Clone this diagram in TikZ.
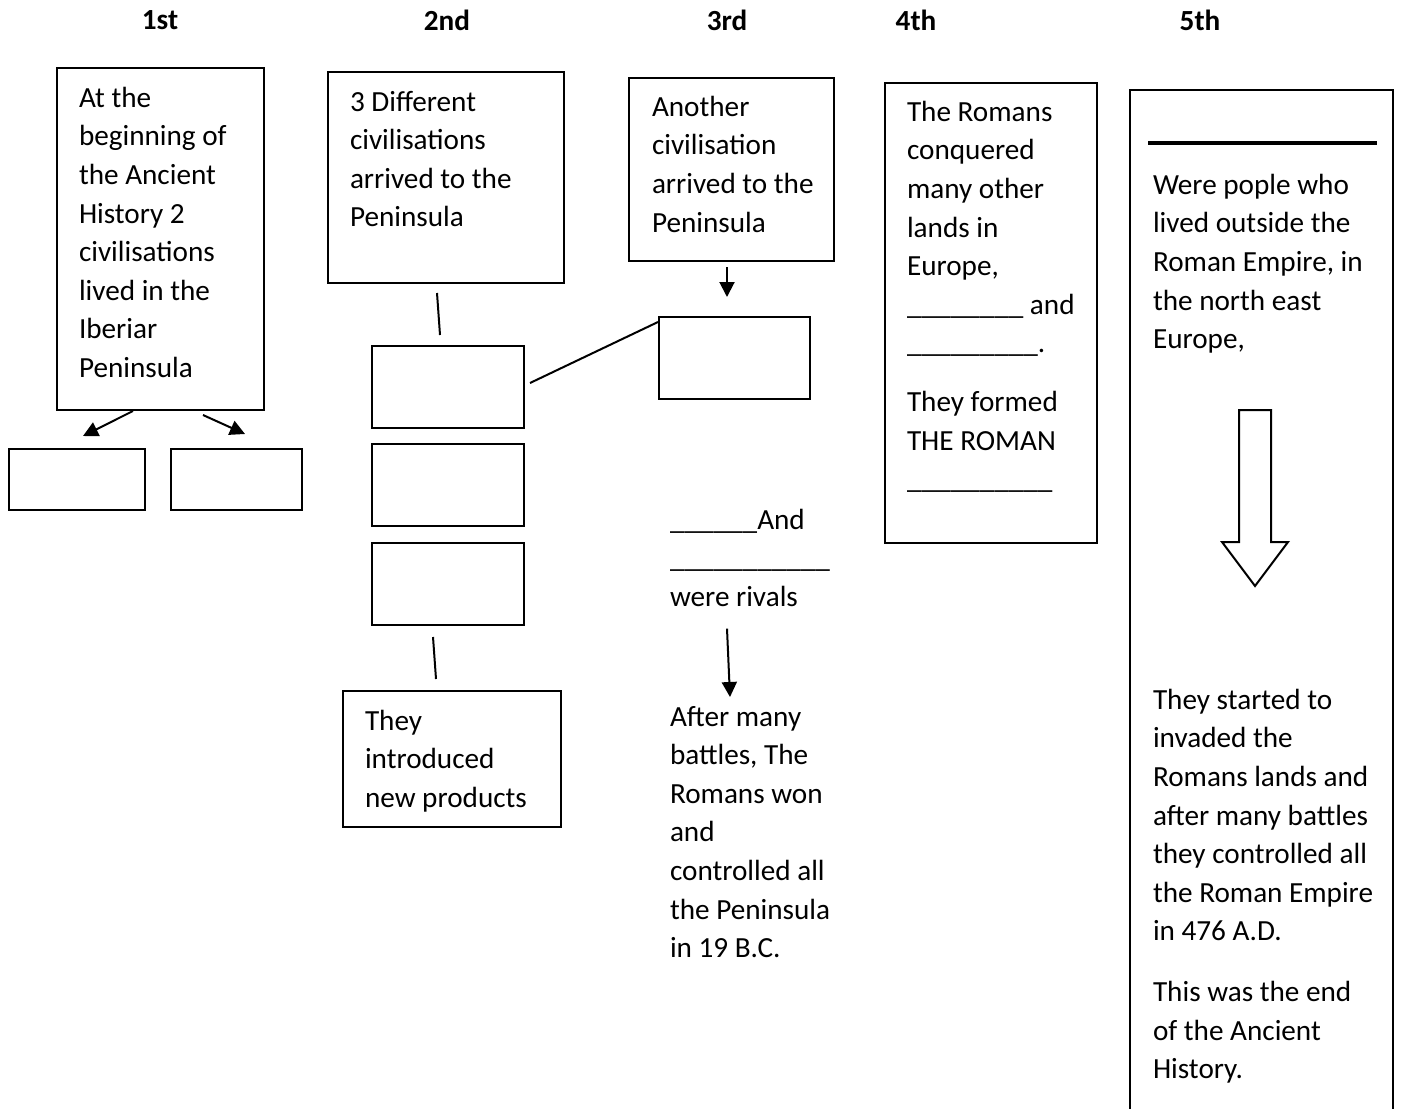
\documentclass[tikz,border=0pt]{standalone}
\usepackage{fontspec}
\setmainfont{Carlito}
\usetikzlibrary{arrows.meta}
\begin{document}
\begin{tikzpicture}[x=0.5pt, y=-0.5pt, line width=1pt,
  font=\fontsize{14.6pt}{19.3pt}\selectfont,
  box/.style={draw, inner sep=0pt},
  txt/.style={anchor=north west, inner sep=0pt, align=left},
  head/.style={font=\fontsize{14.6pt}{19.3pt}\selectfont\bfseries},
  arr/.style={-{Triangle[length=7.5pt,width=7.5pt]}}]
\useasboundingbox (0,0) rectangle (1402,1108);
% headings
\node[head] (h1) at (160,20) {1st};
\node[head] (h2) at (447,20) {2nd};
\node[head] (h3) at (727,20) {3rd};
\node[head] (h4) at (916,20) {4th};
\node[head] (h5) at (1200,20) {5th};
% 1st
\node[box, minimum width=103.5pt, minimum height=171pt] (a) at (160.5,239) {};
\node[txt] (at) at (78,86) {At the\\beginning of\\the Ancient\\History 2\\civilisations\\lived in the\\Iberiar\\Peninsula};
\node[box, minimum width=68pt, minimum height=30.5pt] (a1) at (77,479.5) {};
\node[box, minimum width=65.5pt, minimum height=30.5pt] (a2) at (236.5,479.5) {};
\draw[arr] ([xshift=-13.75pt]a.south) -- ([xshift=3pt,yshift=6pt]a1.north);
\draw[arr] ([xshift=21.25pt,yshift=-2pt]a.south) -- ([xshift=4.25pt,yshift=7pt]a2.north);
% 2nd
\node[box, minimum width=118pt, minimum height=105.5pt] (b) at (446,177.5) {};
\node[txt] (bt) at (349,90) {3 Different\\civilisations\\arrived to the\\Peninsula};
\node[box, minimum width=76pt, minimum height=41pt] (b1) at (448,387) {};
\node[box, minimum width=76pt, minimum height=41pt] (b2) at (448,485) {};
\node[box, minimum width=76pt, minimum height=41pt] (b3) at (448,584) {};
\node[box, minimum width=109pt, minimum height=68pt] (b4) at (452,759) {};
\node[txt] (b4t) at (364,709) {They\\introduced\\new products};
\draw ([xshift=-4.5pt,yshift=-4.5pt]b.south) -- ([xshift=-4pt,yshift=5pt]b1.north);
\draw ([xshift=-7.5pt,yshift=-5.5pt]b3.south) -- ([xshift=-8pt,yshift=5.5pt]b4.north);
% 3rd
\node[box, minimum width=102.5pt, minimum height=91.5pt] (c) at (731.5,169.5) {};
\node[txt] (ct) at (651,95) {Another\\civilisation\\arrived to the\\Peninsula};
\node[box, minimum width=75.5pt, minimum height=41pt] (c1) at (734.5,358) {};
\draw[arr] ([xshift=-2.25pt,yshift=-2.5pt]c.south) -- ([xshift=-3.75pt,yshift=9.5pt]c1.north);
\draw ([xshift=2.5pt,yshift=2pt]b1.east) -- ([yshift=-3pt]c1.north west);
\node[txt] (rivals) at (669,508) {\_\_\_\_\_\_And\\\_\_\_\_\_\_\_\_\_\_\_\\were rivals};
\node[txt] (after) at (669,705) {After many\\battles, The\\Romans won\\and\\controlled all\\the Peninsula\\in 19 B.C.};
\draw[arr] ([xshift=29pt,yshift=-10.5pt]rivals.south west) -- ([xshift=30.5pt,yshift=4pt]after.north west);
% 4th
\node[box, minimum width=106pt, minimum height=230pt] (d) at (991,313) {};
\node[txt] (dt) at (906,100) {The Romans\\conquered\\many other\\lands in\\Europe,\\\_\_\_\_\_\_\_\_ and\\\_\_\_\_\_\_\_\_\_.\\[10pt]They formed\\THE ROMAN\\\_\_\_\_\_\_\_\_\_\_};
% 5th
\node[box, minimum width=131.5pt, minimum height=520pt] (e) at (1261.5,610) {};
\draw[line width=2.25pt] (1148,143) -- (1377,143);
\node[txt] (et) at (1152,173) {Were pople who\\lived outside the\\Roman Empire, in\\the north east\\Europe,};
\draw (1239,410) -- (1271,410) -- (1271,542) -- (1288,542) -- (1255,586) -- (1222,542) -- (1239,542) -- cycle;
\node[txt] (eb) at (1152,688) {They started to\\invaded the\\Romans lands and\\after many battles\\they controlled all\\the Roman Empire\\in 476 A.D.\\[11pt]This was the end\\of the Ancient\\History.};
\end{tikzpicture}
\end{document}
